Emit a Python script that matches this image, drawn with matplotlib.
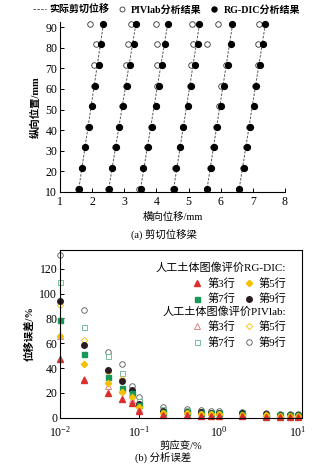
import numpy as np
import matplotlib
matplotlib.use('Agg')
import matplotlib.pyplot as plt
from matplotlib.lines import Line2D

plt.rcParams['font.family'] = ['Liberation Serif', 'Noto Sans CJK SC']
plt.rcParams['font.size'] = 7.5
plt.rcParams['axes.unicode_minus'] = False
plt.rcParams['mathtext.fontset'] = 'stix'

# (a) 剪切位移梁
y_pos = [11.6, 21.6, 31.6, 41.6, 51.6, 61.6, 71.6, 81.6, 91.3]
line_y = [10, 92.5]
line_x_bottom = [1.57, 2.50, 3.49, 4.52, 5.56, 6.56]
line_x_top = [2.36, 3.37, 4.36, 5.35, 6.38, 7.40]

rgdic_x = [
    [1.59, 1.69, 1.79, 1.89, 2.00, 2.09, 2.20, 2.28, 2.35],
    [2.52, 2.63, 2.73, 2.85, 2.96, 3.08, 3.19, 3.29, 3.36],
    [3.51, 3.59, 3.74, 3.85, 3.98, 4.07, 4.17, 4.28, 4.35],
    [4.54, 4.60, 4.74, 4.84, 4.99, 5.08, 5.19, 5.29, 5.33],
    [5.58, 5.69, 5.79, 5.88, 6.00, 6.11, 6.22, 6.32, 6.36],
    [6.58, 6.71, 6.82, 6.92, 7.05, 7.10, 7.23, 7.32, 7.38],
]
piv_x = [
    [1.57, 1.67, 1.78, 1.88, 1.98, 2.07, 2.07, 2.12, 1.93],
    [2.50, 2.61, 2.71, 2.83, 2.94, 3.06, 3.05, 3.12, 3.20],
    [3.47, 3.57, 3.72, 3.83, 3.99, 4.03, 4.02, 4.02, 3.98],
    [4.52, 4.58, 4.72, 4.82, 4.97, 5.06, 5.07, 5.13, 5.12],
    [5.56, 5.67, 5.77, 5.86, 5.95, 6.02, 6.18, 5.57, 5.92],
    [6.56, 6.69, 6.80, 6.89, 7.03, 7.08, 7.17, 7.15, 7.20],
]

# (b) 分析误差
strain = [0.01, 0.02, 0.04, 0.06, 0.08, 0.1, 0.2, 0.4, 0.6, 0.8, 1, 2, 4, 6, 8, 10]
rg_row3 = [47, 30.5, 20.2, 15.1, 12.1, 5.6, 2.5, 2.0, 1.8, 1.7, 1.6, 1.5, 1.0, 0.9, 0.8, 0.7]
rg_row5 = [66, 43.3, 27.8, 20.5, 16.5, 8.5, 4.0, 3.5, 3.2, 3.0, 2.8, 2.5, 2.0, 1.8, 1.6, 1.5]
rg_row7 = [79, 51, 32.6, 24.2, 19.7, 10.2, 5.0, 4.5, 4.0, 3.7, 3.5, 3.2, 2.5, 2.3, 2.1, 2.0]
rg_row9 = [94, 58.7, 38.7, 29.4, 22.4, 11.3, 5.5, 5.0, 4.5, 4.2, 4.0, 3.6, 2.8, 2.6, 2.4, 2.2]
piv_row3 = [66, 31, 26, 22, 14, 7, 3.0, 2.5, 2.2, 2.0, 1.9, 1.8, 1.3, 1.1, 1.0, 0.9]
piv_row5 = [91, 62.7, 36.5, 31, 18, 9.5, 4.5, 4.0, 3.6, 3.4, 3.2, 3.0, 2.3, 2.0, 1.8, 1.7]
piv_row7 = [109.3, 73, 49.8, 35.8, 20.5, 13.5, 6.8, 6.0, 5.5, 5.0, 4.6, 4.3, 3.3, 3.0, 2.7, 2.5]
piv_row9 = [131.3, 86.9, 53.3, 43.3, 25.8, 16.4, 8.4, 7.3, 6.5, 5.8, 5.3, 5.0, 3.6, 3.3, 3.0, 2.8]

red = '#d9302c'
yellow = '#f5c000'
green = '#17985a'
dark = '#2a1c22'

fig = plt.figure(figsize=(3.27, 4.70), dpi=100)

# ---- 上图
ax1 = fig.add_axes([0.1835, 0.5915, 0.688, 0.3617])
for i in range(6):
    ax1.plot([line_x_bottom[i], line_x_top[i]], line_y, ls=(0, (2.5, 1.5)),
             color='#555555', lw=0.7, zorder=1)
    ax1.plot(piv_x[i], y_pos, 'o', mfc='white', mec='#333333', mew=0.6,
             ms=4.0, ls='none', zorder=2, clip_on=False)
    ax1.plot(rgdic_x[i], y_pos, 'o', color='black', ms=4.2, ls='none',
             zorder=3, clip_on=False)
ax1.set_xlim(1, 8)
ax1.set_ylim(10, 92.5)
ax1.set_xticks(range(1, 9))
ax1.set_yticks(range(10, 100, 10))
ax1.spines['top'].set_visible(False)
ax1.spines['right'].set_visible(False)
for s in ax1.spines.values():
    s.set_linewidth(0.8)
ax1.tick_params(direction='in', length=3, width=0.7, labelsize=8.5, pad=2)
ax1.tick_params(axis='x', pad=3)
ax1.set_xlabel('横向位移/mm', fontsize=7.5, labelpad=3)
ax1.set_ylabel('纵向位置/mm', fontsize=7.5, fontweight='bold', labelpad=3)

h_line = Line2D([], [], ls=(0, (2.5, 1.5)), color='#555555', lw=0.7)
h_piv = Line2D([], [], marker='o', mfc='white', mec='#333333', mew=0.6, ms=3.6, ls='none')
h_rg = Line2D([], [], marker='o', color='black', ms=3.6, ls='none')
fig.legend([h_line, h_piv, h_rg], ['实际剪切位移', 'PIVlab分析结果', 'RG-DIC分析结果'],
           loc='upper center', bbox_to_anchor=(0.51, 1.005), ncol=3, frameon=False,
           handlelength=1.3, handletextpad=0.3, columnspacing=0.6,
           borderpad=0.2, prop={'weight': 'bold', 'size': 7.2})

fig.text(0.5, 0.5, '(a) 剪切位移梁', ha='center', va='center', fontsize=7.5)

# ---- 下图
ax2 = fig.add_axes([0.1835, 0.111, 0.739, 0.357])
ax2.set_xscale('log')
ms = 4.0
kw = dict(ls='none', clip_on=False, ms=ms)
p9 = ax2.plot(strain, piv_row9, 'o', mfc='white', mec='#555555', mew=0.6, **kw)[0]
p7 = ax2.plot(strain, piv_row7, 's', mfc='white', mec='#5fb58a', mew=0.6,
              ls='none', clip_on=False, ms=3.6)[0]
p5 = ax2.plot(strain, piv_row5, 'D', mfc='white', mec=yellow, mew=0.6,
              ls='none', clip_on=False, ms=3.2)[0]
p3 = ax2.plot(strain, piv_row3, '^', mfc='white', mec='#e07070', mew=0.6, **kw)[0]
r9 = ax2.plot(strain, rg_row9, 'o', color=dark, **kw)[0]
r7 = ax2.plot(strain, rg_row7, 's', color=green, ls='none', clip_on=False, ms=3.6)[0]
r5 = ax2.plot(strain, rg_row5, 'D', color=yellow, ls='none', clip_on=False, ms=3.2)[0]
r3 = ax2.plot(strain, rg_row3, '^', color=red, **kw)[0]

ax2.set_xlim(0.01, 11.2)
ax2.set_ylim(0, 135)
ax2.set_yticks(range(0, 121, 20))
for s in ax2.spines.values():
    s.set_linewidth(0.8)
ax2.tick_params(which='both', direction='in', labelsize=8.5, pad=2)
ax2.tick_params(axis='x', pad=5)
ax2.tick_params(which='major', length=3, width=0.7)
ax2.tick_params(which='minor', length=0)
ax2.set_xlabel('剪应变/%', fontsize=7.5, labelpad=1)
ax2.set_ylabel('位移误差/%', fontsize=7.5, fontweight='bold', labelpad=3)

leg_kw = dict(ncol=2, frameon=False, fontsize=8, handlelength=1.0,
              handletextpad=0.4, columnspacing=0.7, labelspacing=0.45,
              borderpad=0, title_fontsize=8, alignment='right')
leg1 = ax2.legend([r3, r7, r5, r9], ['第3行', '第7行', '第5行', '第9行'],
                  title='人工土体图像评价RG-DIC:', loc='upper right',
                  bbox_to_anchor=(0.96, 0.96), **leg_kw)
ax2.add_artist(leg1)
ax2.legend([p3, p7, p5, p9], ['第3行', '第7行', '第5行', '第9行'],
           title='人工土体图像评价PIVlab:', loc='upper right',
           bbox_to_anchor=(0.96, 0.70), **leg_kw)

fig.text(0.5, 0.027, '(b) 分析误差', ha='center', va='center', fontsize=7.5)

fig.savefig('out.png', dpi=100)
